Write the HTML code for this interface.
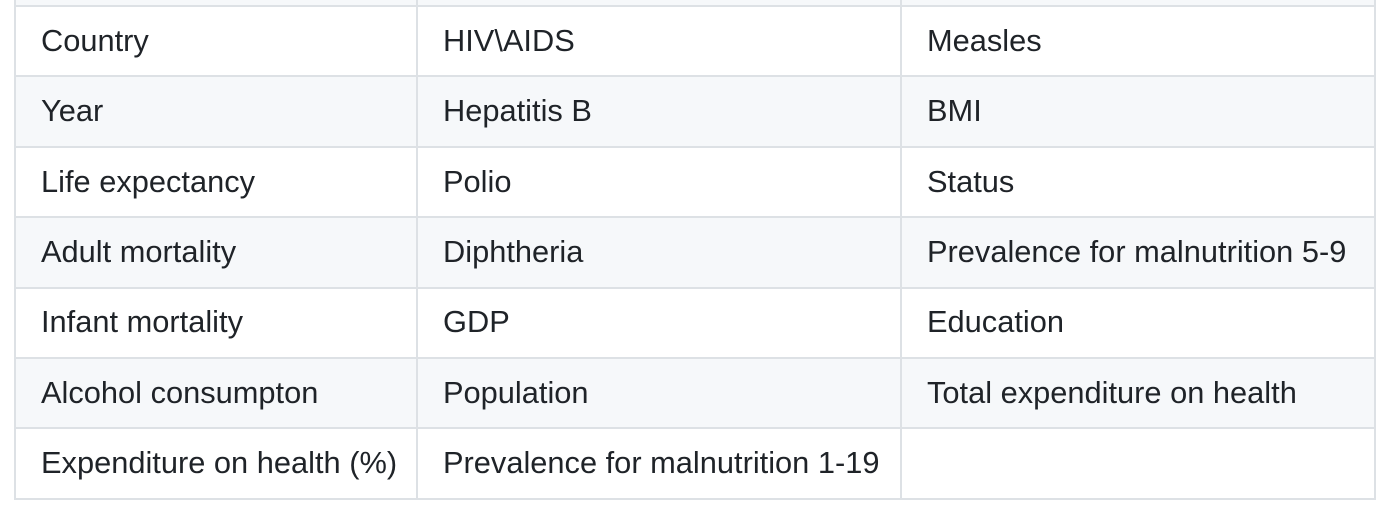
<!DOCTYPE html>
<html><head><meta charset="utf-8"><style>
html,body{margin:0;padding:0;background:#fff;width:1400px;height:522px;overflow:hidden}
table{position:absolute;left:14px;top:-65.4px;border-collapse:collapse;font-family:"Liberation Sans",sans-serif;font-size:30.8px;color:#1f2328;table-layout:fixed}
tr{height:70.4px}
td{border:2px solid #dde1e5;height:70.4px;padding:0 0 0 25px;vertical-align:middle;box-sizing:border-box;white-space:nowrap;line-height:1}
td.c1{width:402px}td.c2{width:484px}td.c3{width:474px}
tr.alt td{background:#f6f8fa}
</style></head><body>
<table>
<tr class="alt"><td class="c1"></td><td class="c2"></td><td class="c3"></td></tr>
<tr><td class="c1">Country</td><td class="c2">HIV\AIDS</td><td class="c3">Measles</td></tr>
<tr class="alt"><td class="c1">Year</td><td class="c2">Hepatitis B</td><td class="c3">BMI</td></tr>
<tr><td class="c1">Life expectancy</td><td class="c2">Polio</td><td class="c3">Status</td></tr>
<tr class="alt"><td class="c1">Adult mortality</td><td class="c2">Diphtheria</td><td class="c3">Prevalence for malnutrition 5-9</td></tr>
<tr><td class="c1">Infant mortality</td><td class="c2">GDP</td><td class="c3">Education</td></tr>
<tr class="alt"><td class="c1">Alcohol consumpton</td><td class="c2">Population</td><td class="c3">Total expenditure on health</td></tr>
<tr><td class="c1">Expenditure on health (%)</td><td class="c2">Prevalence for malnutrition 1-19</td><td class="c3"></td></tr>
</table>
</body></html>
